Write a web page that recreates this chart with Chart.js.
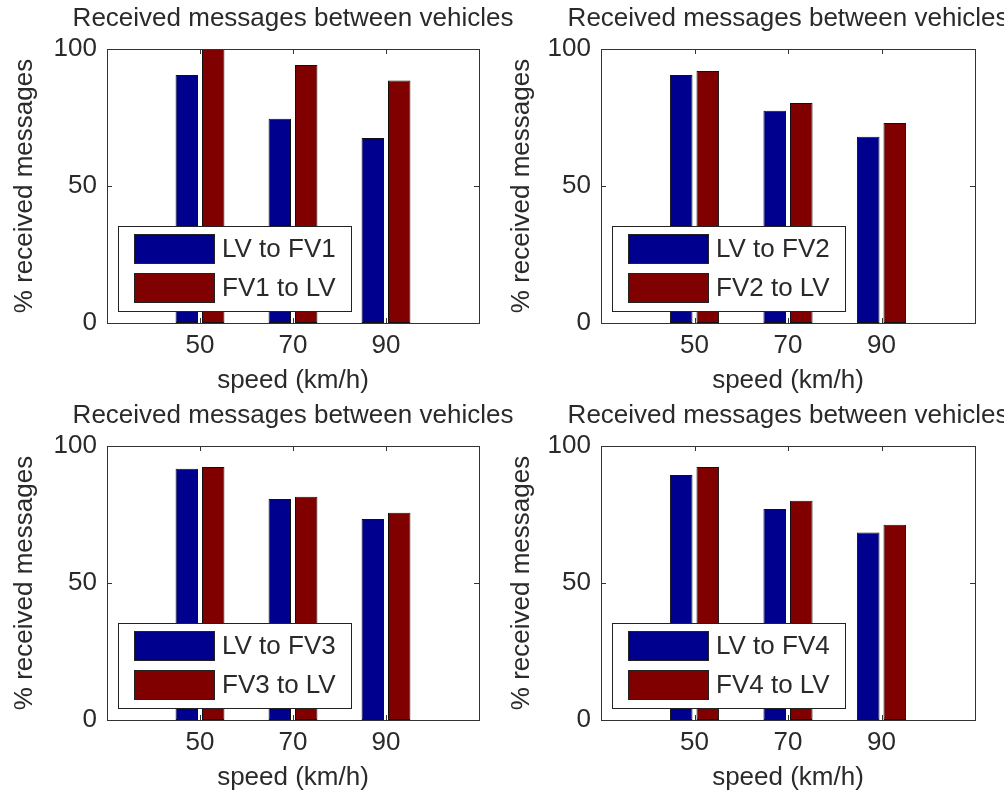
<!DOCTYPE html>
<html>
<head>
<meta charset="utf-8">
<script src="https://cdn.jsdelivr.net/npm/chart.js@4.4.0/dist/chart.umd.min.js"></script>
<style>
    html, body { margin: 0; padding: 0; background: #fff; overflow: hidden; width: 1004px; height: 793px; }
    .plot { position: absolute; }
</style>
</head>
<body>
<div class="plot" style="left:0;top:0;width:586px;height:396px"><canvas id="plot1"></canvas></div>
<div class="plot" style="left:502px;top:0;width:572px;height:396px"><canvas id="plot2"></canvas></div>
<div class="plot" style="left:0;top:397px;width:586px;height:396px"><canvas id="plot3"></canvas></div>
<div class="plot" style="left:502px;top:397px;width:572px;height:396px"><canvas id="plot4"></canvas></div>
<script>
const speeds = [50, 70, 90];
const yTicks = [0, 50, 100];

const lvToFv1 = [90.5, 74.5, 67.5];
const fv1ToLv = [100, 94.2, 88.5];
const lvToFv2 = [90.5, 77.5, 68];
const fv2ToLv = [92, 80.3, 73];
const lvToFv3 = [91.7, 80.7, 73.4];
const fv3ToLv = [92.3, 81.5, 75.6];
const lvToFv4 = [89.4, 77, 68.4];
const fv4ToLv = [92.3, 80, 71.3];

const chartTitle = 'Received messages between vehicles';
const xTitle = 'speed (km/h)';
const yTitle = '% received messages';

const BLUE = 'rgb(0, 0, 143)';
const RED = 'rgb(128, 0, 0)';
const TEXT = '#2a2a2a';
const FONT_FAMILY = "'Liberation Sans', Arial, sans-serif";

Chart.defaults.font.family = FONT_FAMILY;
Chart.defaults.font.size = 26;
Chart.defaults.color = TEXT;

// matlab style box with inward ticks
const axesBox = {
    id: 'axesBox',
    afterDatasetsDraw(chart) {
        const { ctx, chartArea: a, scales } = chart;
        ctx.save();
        ctx.strokeStyle = '#333';
        ctx.lineWidth = 1;
        ctx.beginPath();
        scales.y.ticks.forEach(t => {
            const py = Math.round(scales.y.getPixelForValue(t.value)) + 0.5;
            ctx.moveTo(a.left, py); ctx.lineTo(a.left + 5, py);
            ctx.moveTo(a.right, py); ctx.lineTo(a.right - 5, py);
        });
        scales.x.ticks.forEach(t => {
            const px = Math.round(scales.x.getPixelForValue(t.value)) + 0.5;
            ctx.moveTo(px, a.top); ctx.lineTo(px, a.top + 5);
            ctx.moveTo(px, a.bottom); ctx.lineTo(px, a.bottom - 5);
        });
        ctx.stroke();
        ctx.strokeRect(Math.round(a.left) + 0.5, Math.round(a.top) + 0.5,
            Math.round(a.right - a.left), Math.round(a.bottom - a.top));
        ctx.restore();
    }
};

// boxed legend sitting inside the axes, lower left
const boxLegend = {
    id: 'boxLegend',
    afterDraw(chart) {
        const { ctx, chartArea: a } = chart;
        const sets = chart.data.datasets;
        ctx.save();
        ctx.font = `26px ${FONT_FAMILY}`;
        const textW = Math.max(...sets.map(d => ctx.measureText(d.label).width));
        const w = Math.round(104 + textW + 15), h = 85;
        const x = Math.round(a.left + 11), y = Math.round(a.bottom - 12 - h);
        ctx.fillStyle = '#fff';
        ctx.fillRect(x, y, w, h);
        ctx.strokeStyle = '#222';
        ctx.lineWidth = 1;
        ctx.strokeRect(x + 0.5, y + 0.5, w, h);
        sets.forEach((d, i) => {
            const sy = y + 8 + i * 39;
            ctx.fillStyle = d.backgroundColor;
            ctx.fillRect(x + 16, sy, 80, 29);
            ctx.strokeRect(x + 16.5, sy + 0.5, 80, 29);
            ctx.fillStyle = TEXT;
            ctx.textBaseline = 'middle';
            ctx.textAlign = 'left';
            ctx.fillText(d.label, x + 104, sy + 16);
        });
        ctx.restore();
    }
};

function makePlot(id, n, down, up, yAxisW, yTitlePad) {
    new Chart(document.getElementById(id), {
        type: 'bar',
        data: {
            labels: speeds,
            datasets: [
                { label: `LV to FV${n}`, data: down, backgroundColor: BLUE },
                { label: `FV${n} to LV`, data: up, backgroundColor: RED }
            ]
        },
        options: {
            responsive: true,
            maintainAspectRatio: false,
            animation: false,
            layout: { padding: 0 },
            datasets: {
                bar: {
                    borderColor: '#111',
                    borderWidth: 1,
                    borderSkipped: false,
                    categoryPercentage: 0.568,
                    barPercentage: 0.85
                }
            },
            scales: {
                x: {
                    type: 'linear',
                    min: 30,
                    max: 110,
                    offset: false,
                    grid: { display: false, drawTicks: false },
                    border: { display: false },
                    afterBuildTicks: s => { s.ticks = speeds.map(v => ({ value: v })); },
                    afterFit: s => { s.height = 73; },
                    ticks: { padding: 7, color: TEXT, callback: v => String(v) },
                    title: { display: true, text: xTitle, color: TEXT, padding: { top: 0, bottom: 0 } }
                },
                y: {
                    min: 0,
                    max: 100,
                    grid: { display: false, drawTicks: false },
                    border: { display: false },
                    afterBuildTicks: s => { s.ticks = yTicks.map(v => ({ value: v })); },
                    afterFit: s => { s.width = yAxisW; },
                    ticks: { padding: 10, color: TEXT },
                    title: { display: true, text: yTitle, color: TEXT, padding: { top: yTitlePad, bottom: 0 } }
                },
                // empty right-hand spacer so the title centres over the axes
                spacer: {
                    type: 'linear',
                    position: 'right',
                    min: 0,
                    max: 100,
                    grid: { display: false, drawTicks: false },
                    border: { display: false },
                    ticks: { display: false },
                    afterFit: s => { s.width = yAxisW; }
                }
            },
            plugins: {
                legend: { display: false },
                tooltip: { enabled: false },
                title: {
                    display: true,
                    text: chartTitle,
                    color: TEXT,
                    font: { size: 26, weight: 'normal' },
                    padding: { top: 3, bottom: 14.8 }
                }
            }
        },
        plugins: [axesBox, boxLegend]
    });
}

makePlot('plot1', 1, lvToFv1, fv1ToLv, 107, 9.4);
makePlot('plot2', 2, lvToFv2, fv2ToLv, 99, 4.4);
makePlot('plot3', 3, lvToFv3, fv3ToLv, 107, 9.4);
makePlot('plot4', 4, lvToFv4, fv4ToLv, 99, 4.4);
</script>
</body>
</html>
